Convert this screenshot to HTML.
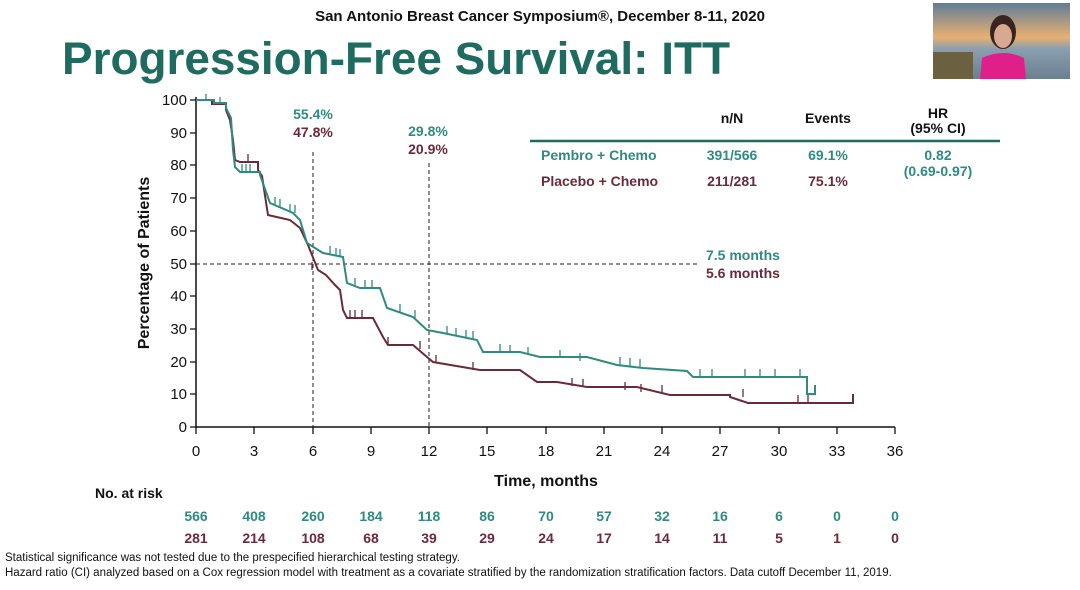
<!DOCTYPE html>
<html><head><meta charset="utf-8"><style>
body{margin:0;width:1080px;height:585px;overflow:hidden;background:#fff;font-family:"Liberation Sans",Arial,sans-serif}
</style></head><body>
<svg width="1080" height="585" viewBox="0 0 1080 585" xmlns="http://www.w3.org/2000/svg" font-family="Liberation Sans, Arial, sans-serif">
<defs><linearGradient id="sky" x1="0" y1="0" x2="0" y2="1"><stop offset="0" stop-color="#5f7d9a"/><stop offset="0.45" stop-color="#e8b070"/><stop offset="0.6" stop-color="#8aa0b0"/><stop offset="1" stop-color="#6a8090"/></linearGradient></defs>
<text x="540" y="21" text-anchor="middle" font-size="15" font-weight="bold" fill="#111">San Antonio Breast Cancer Symposium®, December 8-11, 2020</text>
<text x="62" y="74" font-size="45" font-weight="bold" fill="#1f6b5f" textLength="668" lengthAdjust="spacingAndGlyphs">Progression-Free Survival: ITT</text>
<rect x="933" y="3" width="137" height="76" fill="url(#sky)"/>
<rect x="933" y="52" width="40" height="27" fill="#6b6040"/>
<ellipse cx="1003" cy="32" rx="13" ry="17" fill="#3a2420"/>
<ellipse cx="1003" cy="36" rx="9" ry="12" fill="#d8a890"/>
<path d="M980 79 L982 58 Q1003 48 1024 58 L1026 79Z" fill="#e0208a"/>
<g stroke="#111" stroke-width="1.5" fill="none">
<path d="M196 97 V427 H895"/>
</g>
<g stroke="#111" stroke-width="1.3">
<path d="M190 100H196M190 133H196M190 165H196M190 198H196M190 231H196M190 264H196M190 296H196M190 329H196M190 362H196M190 394H196M190 427H196"/>
<path d="M196 427V434M254 427V434M313 427V434M371 427V434M429 427V434M487 427V434M546 427V434M604 427V434M662 427V434M720 427V434M779 427V434M837 427V434M895 427V434"/>
</g>
<g font-size="15" fill="#111" text-anchor="end">
<text x="187" y="105">100</text><text x="187" y="138">90</text><text x="187" y="170">80</text><text x="187" y="203">70</text><text x="187" y="236">60</text><text x="187" y="269">50</text><text x="187" y="301">40</text><text x="187" y="334">30</text><text x="187" y="367">20</text><text x="187" y="399">10</text><text x="187" y="432">0</text>
</g>
<g font-size="15" fill="#111" text-anchor="middle">
<text x="196" y="456">0</text><text x="254" y="456">3</text><text x="313" y="456">6</text><text x="371" y="456">9</text><text x="429" y="456">12</text><text x="487" y="456">15</text><text x="546" y="456">18</text><text x="604" y="456">21</text><text x="662" y="456">24</text><text x="720" y="456">27</text><text x="779" y="456">30</text><text x="837" y="456">33</text><text x="895" y="456">36</text>
</g>
<text x="546" y="486" font-size="16" font-weight="bold" text-anchor="middle" fill="#111">Time, months</text>
<text transform="translate(149,263) rotate(-90)" font-size="16" font-weight="bold" text-anchor="middle" fill="#111">Percentage of Patients</text>
<g stroke="#222" stroke-width="1" stroke-dasharray="4,3" fill="none">
<path d="M196 264H700"/><path d="M313 152V427"/><path d="M429 163V427"/>
</g>
<g font-size="14" font-weight="bold" text-anchor="middle">
<text x="313" y="119" fill="#2e8b7e">55.4%</text><text x="313" y="137" fill="#6b2a3a">47.8%</text>
<text x="428" y="136" fill="#2e8b7e">29.8%</text><text x="428" y="154" fill="#6b2a3a">20.9%</text>
<text x="706" y="260" text-anchor="start" fill="#2e8b7e">7.5 months</text>
<text x="706" y="278" text-anchor="start" fill="#6b2a3a">5.6 months</text>
</g>
<path d="M196 100H212V104H226V110L230 120L233 140L235 160L240 162H258V170L262 176L268 215L290 220L300 228L308 245L318 270L326 275L335 285L340 290L343 310L347 318H373L383 337L388 345H413L427 357L433 362L480 370H520L537 382H557L587 387H637L670 395H730V397L748 403H853V394" fill="none" stroke="#6b2a3a" stroke-width="2"/>
<path d="M196 100H214V103H226V108L231 118L233 150L235 167L240 172H260V175L270 203L293 213L300 220L307 243L323 253L343 257L347 283L360 288H380L387 308L413 317L427 330L443 333L477 340L483 352H520L540 357H587L617 365L643 368L687 371L693 377H807V394H815V385" fill="none" stroke="#2e8b7e" stroke-width="2"/>
<g stroke="#2e8b7e" stroke-width="1.3">
<path d="M206 100v-6M220 103v-6M242 172v-8M246 172v-8M250 172v-8M275 205v-8M280 207v-8M290 212v-8M295 213v-8M330 254v-8M336 256v-8M340 257v-8M355 286v-8M365 288v-8M372 288v-8M400 312v-8M415 318v-8M447 334v-8M456 336v-8M466 338v-8M473 339v-8M500 352v-8M510 353v-8M528 355v-8M560 358v-8M580 361v-8M620 365v-8M630 366v-8M640 367v-8M700 377v-8M712 377v-8M745 377v-8M760 377v-8M775 377v-8M800 377v-8"/>
</g>
<g stroke="#6b2a3a" stroke-width="1.3">
<path d="M248 162v-8M312 270v-8M350 318v-8M355 318v-8M362 318v-8M388 345v-8M420 349v-8M436 363v-8M473 370v-8M572 386v-8M583 387v-8M625 390v-8M641 392v-8M662 393v-8M743 397v-8M798 403v-8M808 403v-8"/>
</g>
<g font-size="14" font-weight="bold" fill="#111" text-anchor="middle">
<text x="732" y="123">n/N</text><text x="828" y="123">Events</text>
<text x="938" y="118">HR</text><text x="938" y="133">(95% CI)</text>
</g>
<path d="M530 141H1000" stroke="#1f6b5f" stroke-width="2.5"/>
<g font-size="14" font-weight="bold">
<text x="541" y="160" fill="#2e8b7e">Pembro + Chemo</text>
<text x="732" y="160" fill="#2e8b7e" text-anchor="middle">391/566</text>
<text x="828" y="160" fill="#2e8b7e" text-anchor="middle">69.1%</text>
<text x="938" y="160" fill="#2e8b7e" text-anchor="middle">0.82</text>
<text x="938" y="176" fill="#2e8b7e" text-anchor="middle">(0.69-0.97)</text>
<text x="541" y="186" fill="#6b2a3a">Placebo + Chemo</text>
<text x="732" y="186" fill="#6b2a3a" text-anchor="middle">211/281</text>
<text x="828" y="186" fill="#6b2a3a" text-anchor="middle">75.1%</text>
</g>
<text x="95" y="498" font-size="14" font-weight="bold" fill="#111">No. at risk</text>
<g font-size="14" font-weight="bold" text-anchor="middle" fill="#2e8b7e">
<text x="196" y="521">566</text><text x="254" y="521">408</text><text x="313" y="521">260</text><text x="371" y="521">184</text><text x="429" y="521">118</text><text x="487" y="521">86</text><text x="546" y="521">70</text><text x="604" y="521">57</text><text x="662" y="521">32</text><text x="720" y="521">16</text><text x="779" y="521">6</text><text x="837" y="521">0</text><text x="895" y="521">0</text>
</g>
<g font-size="14" font-weight="bold" text-anchor="middle" fill="#6b2a3a">
<text x="196" y="543">281</text><text x="254" y="543">214</text><text x="313" y="543">108</text><text x="371" y="543">68</text><text x="429" y="543">39</text><text x="487" y="543">29</text><text x="546" y="543">24</text><text x="604" y="543">17</text><text x="662" y="543">14</text><text x="720" y="543">11</text><text x="779" y="543">5</text><text x="837" y="543">1</text><text x="895" y="543">0</text>
</g>
<text x="5" y="561" font-size="11.5" fill="#111">Statistical significance was not tested due to the prespecified hierarchical testing strategy.</text>
<text x="5" y="576" font-size="11.5" fill="#111">Hazard ratio (CI) analyzed based on a Cox regression model with treatment as a covariate stratified by the randomization stratification factors. Data cutoff December 11, 2019.</text>
</svg>
</body></html>
